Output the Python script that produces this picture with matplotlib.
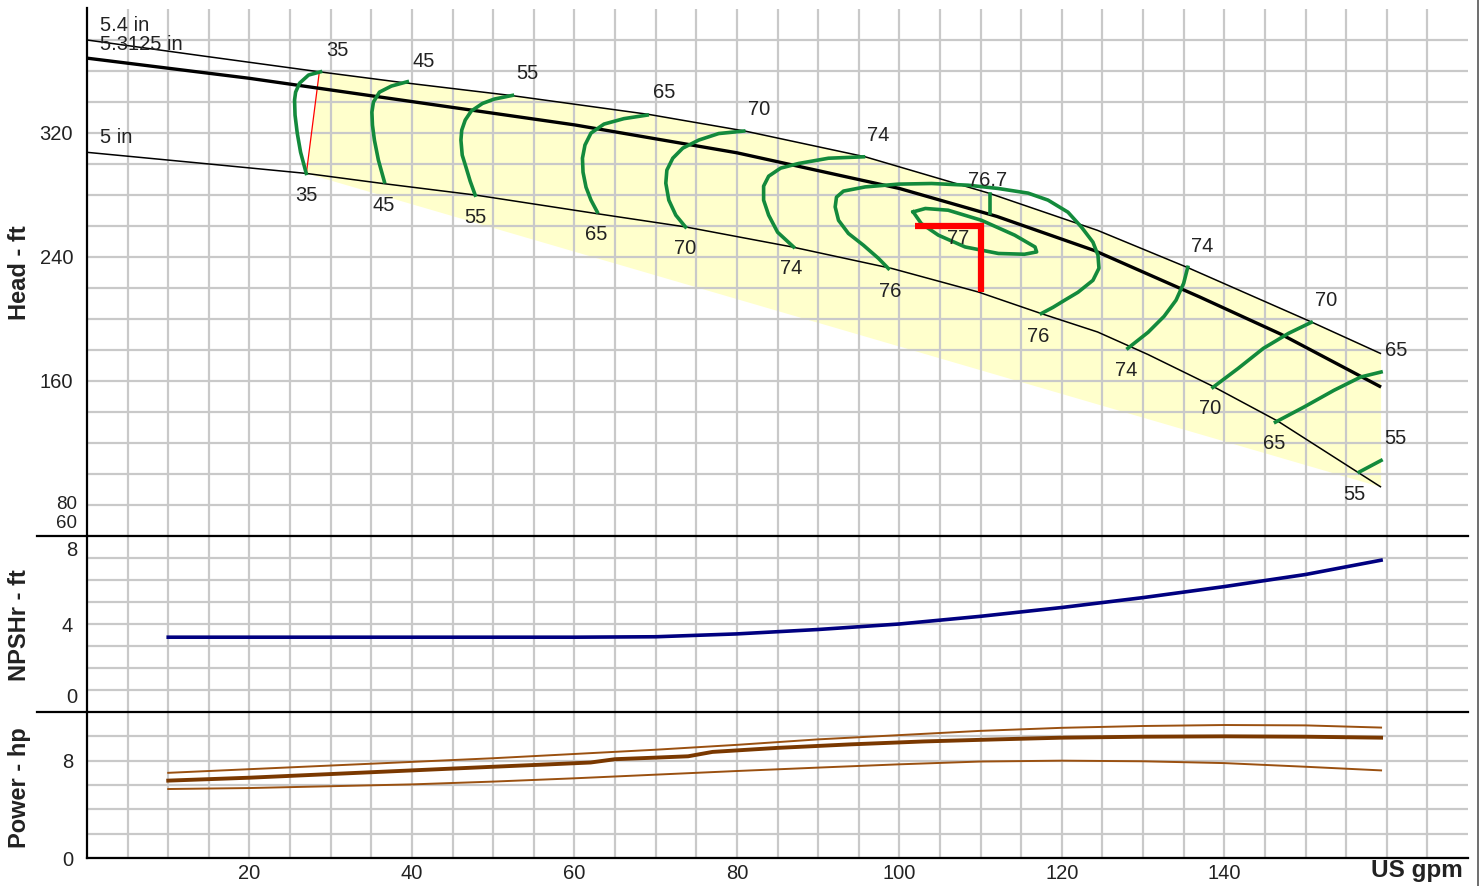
import matplotlib.pyplot as plt
from matplotlib.lines import Line2D

plt.rcParams['font.family'] = ['Liberation Sans', 'DejaVu Sans']

# impeller head curves (US gpm, ft)
q_54 = [0, 14, 28.6, 38.5, 52.4, 69.2, 81, 95.8, 111, 124.4, 135.5, 150.7, 159.3]
h_54 = [379.7, 369.6, 359.2, 352.5, 343.8, 331.7, 321, 304.4, 281, 257, 233, 198, 177.5]
q_53 = [0, 20, 40, 60, 80, 100, 112, 124, 137, 147, 159.3]
h_53 = [368, 355, 340, 325, 307, 284, 266, 244, 214, 190, 156]
q_50 = [0, 13, 27, 36.4, 47.9, 62.6, 73.7, 86.8, 99.1, 109.7, 117.5, 124.4, 130.6, 138.4, 146.6, 156.4, 159.3]
h_50 = [307.3, 300.8, 293.7, 287.2, 279.7, 267.9, 259.2, 246.3, 232.4, 217.3, 203.3, 191.5, 177, 157, 134, 101.2, 91.5]
impeller_names = ["5.4 in", "5.3125 in", "5 in"]
impeller_label_h = [389, 376.5, 317]

# lower edge of the operating area
area_low_q = [27, 159.3]
area_low_h = [293.7, 91.5]

# efficiency iso-lines (gpm, ft)
eff_lines = {
    "35": ([28.75, 27.27, 26.17, 25.68, 25.55, 25.61, 25.88, 26.29, 26.99],
           [359.2, 357.1, 351.9, 346.1, 341.0, 331.3, 319.7, 307.4, 293.7]),
    "45": ([39.43, 37.47, 36.0, 35.26, 35.07, 35.14, 35.38, 35.87, 36.61],
           [352.8, 350.0, 346.1, 339.7, 333.2, 324.8, 315.2, 302.3, 288.3]),
    "55": ([52.37, 50.12, 48.68, 47.3, 46.56, 46.13, 46.03, 46.19, 46.64, 47.17, 47.79],
           [344.0, 341.6, 338.8, 333.9, 328.1, 321.6, 315.2, 305.5, 297.9, 288.7, 279.7]),
    "65": ([68.96, 66.09, 63.64, 62.04, 61.3, 60.99, 61.06, 61.43, 62.04, 62.81],
           [331.3, 329.0, 325.5, 319.7, 312.0, 303.5, 294.5, 284.8, 276.5, 268.9]),
    "70": ([80.84, 77.76, 75.31, 73.34, 72.11, 71.38, 71.25, 71.62, 72.48, 73.67],
           [321.0, 319.4, 315.2, 310.0, 303.5, 295.8, 287.4, 276.5, 266.8, 259.2]),
    "74": ([95.58, 91.28, 87.59, 85.38, 83.91, 83.29, 83.29, 83.91, 85.01, 86.98],
           [304.4, 303.5, 300.1, 297.1, 291.9, 285.5, 276.5, 266.8, 255.8, 246.3]),
    "76": ([98.65, 97.42, 95.58, 93.73, 92.51, 92.1, 92.26, 93.12, 95.79, 99.88, 103.97, 108.48, 112.16,
            115.85, 118.3, 120.76, 122.4, 123.83, 124.45, 124.57, 123.83, 121.99, 120.36, 118.92, 117.48],
           [232.4, 239.0, 247.4, 255.0, 263.5, 272.1, 278.4, 282.3, 285.0, 286.8, 287.2, 286.1, 284.0,
            281.0, 276.5, 268.7, 259.2, 249.4, 241.0, 232.6, 224.8, 217.1, 212.0, 207.4, 203.4]),
    "77": ([101.7, 103.2, 106.0, 110.1, 114.2, 116.7, 116.9, 115.4, 112.2, 108.1, 104.8, 102.7, 101.7],
           [268.9, 271.1, 270.0, 263.5, 253.9, 246.3, 243.1, 241.6, 242.1, 246.3, 253.9, 261.4, 268.9]),
    "76.7": ([111.1, 111.1], [280.6, 267.9]),
    "74r": ([135.5, 135.0, 134.06, 132.59, 130.62, 128.13], [233.2, 222.9, 212.0, 201.6, 191.3, 181.0]),
    "70r": ([150.7, 147.9, 144.8, 141.7, 138.6], [197.7, 190.6, 180.9, 168.0, 155.8]),
    "65r": ([159.3, 156.8, 153.5, 149.8, 146.3], [165.7, 162.5, 153.9, 143.1, 133.4]),
    "55r": ([159.3, 156.6], [108.7, 101.2]),
}

# efficiency labels
eff_text = ["35", "35", "45", "45", "55", "55", "65", "65", "70", "70", "74", "74",
            "76.7", "77", "76", "76", "74", "74", "70", "70", "65", "65", "55", "55"]
eff_text_q = [30.8, 27.0, 41.4, 36.5, 54.2, 47.8, 71.0, 62.7, 82.7, 73.6, 97.4, 86.7,
              110.9, 107.2, 98.9, 117.1, 137.3, 127.9, 152.5, 138.2, 161.1, 146.2, 161.1, 156.0]
eff_text_h = [373.2, 279.7, 366.1, 273.2, 358.4, 265.5, 346.1, 254.5, 335.2, 245.5, 318.4, 232.6,
              289.4, 251.9, 217.7, 188.7, 246.8, 166.8, 211.9, 142.3, 179.7, 119.7, 122.9, 86.8]

# duty point
duty_q = 110
duty_h = 259.5
duty_h_low = 217

# NPSHr (ft)
q_npsh = [10, 20, 40, 60, 70, 80, 90, 100, 110, 120, 130, 140, 150, 159.3]
npsh = [3.4, 3.4, 3.4, 3.4, 3.42, 3.55, 3.75, 4.0, 4.35, 4.75, 5.2, 5.7, 6.25, 6.9]

# power (hp)
q_pw_54 = [10, 20, 30, 40, 50, 60, 70, 80, 90, 100, 110, 120, 130, 140, 150, 159.3]
pw_54 = [7.0, 7.3, 7.6, 7.9, 8.2, 8.55, 8.9, 9.3, 9.75, 10.1, 10.45, 10.7, 10.85, 10.93, 10.9, 10.72]
q_pw_53 = [10, 20, 30, 40, 50, 57, 62, 65, 70, 74, 77, 85, 94, 103, 112, 120, 130, 140, 150, 159.3]
pw_53 = [6.36, 6.6, 6.9, 7.2, 7.5, 7.7, 7.85, 8.12, 8.25, 8.36, 8.72, 9.05, 9.34, 9.58, 9.75, 9.89, 9.97, 10.0, 9.97, 9.89]
q_pw_50 = [10, 20, 30, 40, 50, 60, 70, 80, 90, 100, 110, 120, 130, 140, 150, 159.3]
pw_50 = [5.67, 5.75, 5.9, 6.05, 6.28, 6.55, 6.85, 7.15, 7.43, 7.7, 7.93, 8.0, 7.95, 7.8, 7.5, 7.2]

W, H = 1481, 886
fig = plt.figure(figsize=(W / 100, H / 100), dpi=100)
L, R = 87 / W, 1468 / W
ax_h = fig.add_axes([L, 1 - 536 / H, R - L, (536 - 8.5) / H])
ax_n = fig.add_axes([L, 1 - 712 / H, R - L, 176 / H], sharex=ax_h)
ax_p = fig.add_axes([L, 1 - 858 / H, R - L, 146 / H], sharex=ax_h)

grid_c = '#c9c9c9'
txt_c = '#222222'
fs = 14.5
for ax in (ax_h, ax_n, ax_p):
    for s in ('top', 'right'):
        ax.spines[s].set_visible(False)
    ax.spines['left'].set_linewidth(1.6)
    ax.spines['bottom'].set_linewidth(1.6)
    ax.set_axisbelow(True)
    ax.grid(True, which='both', color=grid_c, linewidth=1.6)
    ax.tick_params(which='both', length=0, labelsize=fs, colors=txt_c, pad=10)
    ax.set_xlim(0, 170)
ax_h.set_xticks([20, 40, 60, 80, 100, 120, 140])
ax_h.set_xticks(range(5, 170, 5), minor=True)
ax_h.tick_params(labelbottom=False)
ax_n.tick_params(labelbottom=False)
ax_h.spines['bottom'].set_visible(False)
ax_n.spines['bottom'].set_visible(False)

# edge tick labels sit just inside the panel
def edge_label(ax, y, text, size=fs):
    ax.text(-10 / 1381, y, text, transform=ax.get_yaxis_transform(), ha='right', va='center',
            fontsize=size, color=txt_c)

# head panel
ax_h.set_ylim(60, 400)
ax_h.set_yticks([160, 240, 320], ['160', '240', '320'])
ax_h.set_yticks([60, 80] + list(range(100, 400, 20)), minor=True)
edge_label(ax_h, 80.6, '80', 13.5)
edge_label(ax_h, 68.2, '60', 13.5)

poly_q = [q for q in q_54 if q >= 28.6] + area_low_q[::-1] + [28.6]
poly_h = [h for q, h in zip(q_54, h_54) if q >= 28.6] + area_low_h[::-1] + [359.2]
ax_h.fill(poly_q, poly_h, color='#ffffcc', zorder=0.2, lw=0)
ax_h.plot([28.6, 27.0], [359.2, 293.7], color='red', lw=0.9, zorder=3)

for (qq, hh), lw in zip([(q_54, h_54), (q_53, h_53), (q_50, h_50)], [1.1, 2.4, 1.1]):
    ax_h.plot(qq, hh, color='black', lw=lw, zorder=3, solid_capstyle='butt')
for name, y in zip(impeller_names, impeller_label_h):
    ax_h.text(1.6, y, name, fontsize=fs, color=txt_c, va='center', ha='left', zorder=5)

for qq, hh in eff_lines.values():
    ax_h.plot(qq, hh, color='#138a3c', lw=2.6, zorder=4, solid_joinstyle='round')
for t, q, h in zip(eff_text, eff_text_q, eff_text_h):
    ax_h.text(q, h, t, fontsize=fs, color=txt_c, ha='center', va='center', zorder=5)

ax_h.plot([101.9, duty_q, duty_q], [duty_h, duty_h, duty_h_low], color='red', lw=4.5,
          zorder=6, solid_joinstyle='miter', solid_capstyle='butt')

# NPSHr panel
ax_n.set_ylim(0, 8)
ax_n.set_yticks([4], ['4'])
ax_n.set_yticks([1, 2, 3, 5, 6, 7], minor=True)
edge_label(ax_n, 7.36, '8')
edge_label(ax_n, 0.68, '0')
ax_n.plot(q_npsh, npsh, color='#000080', lw=2.6, zorder=4)

# power panel
ax_p.set_ylim(0, 12)
ax_p.set_yticks([0, 8], ['0', '8'])
ax_p.set_yticks([2, 4, 6, 10], minor=True)
ax_p.plot(q_pw_54, pw_54, color='#9a5010', lw=1.4, zorder=4)
ax_p.plot(q_pw_53, pw_53, color='#7a3800', lw=2.8, zorder=4)
ax_p.plot(q_pw_50, pw_50, color='#9a5010', lw=1.4, zorder=4)
ax_p.tick_params(axis='x', pad=4)

# panel separators and labels
for y in (536, 712):
    fig.add_artist(Line2D([37 / W, R], [1 - y / H, 1 - y / H], color='black', lw=1.6))
fig.add_artist(Line2D([1478 / W, 1478 / W], [0, 1], color='#555555', lw=1.2))
lab = dict(fontsize=17, fontweight='bold', color=txt_c, rotation=90, ha='center', va='center')
fig.text(20 / W, 1 - 273 / H, 'Head - ft', **lab)
fig.text(20 / W, 1 - 625 / H, 'NPSHr - ft', **lab)
fig.text(20 / W, 1 - 788 / H, 'Power - hp', **lab)
fig.text(1417 / W, 1 - 871 / H, 'US gpm', fontsize=17.5, fontweight='bold', color=txt_c,
         ha='center', va='center')

fig.savefig('out.png', dpi=100)
